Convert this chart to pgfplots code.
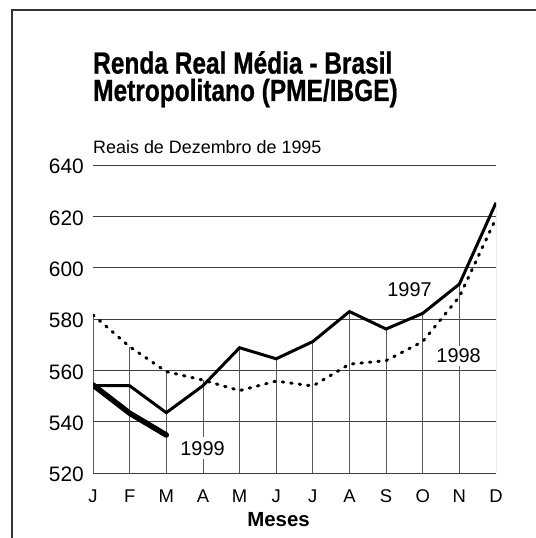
\documentclass[border=0pt]{standalone}
\usepackage{pgfplots}
\pgfplotsset{compat=1.18}
\usepackage{graphicx}
\usepackage{fontspec}
\setmainfont{Liberation Sans}
\newfontfamily\titlefont[FakeBold=0.8]{Liberation Sans Bold}
\begin{document}
\begin{tikzpicture}
\begin{axis}[
  at={(93bp,65bp)}, anchor=south west,
  scale only axis, width=403bp, height=308bp,
  xmin=0, xmax=11, ymin=520, ymax=640,
  xtick={0,...,11}, xticklabels={J,F,M,A,M,J,J,A,S,O,N,D},
  ytick={520,540,...,640},
  axis line style={draw=none},
  major tick length=0pt,
  ymajorgrids, grid style={black!75, line width=0.9bp},
  /pgf/number format/assume math mode=true,
  yticklabel style={font=\fontsize{21}{21}\selectfont, anchor=base east, inner sep=0pt, xshift=-9bp, yshift=-8.7bp},
  xticklabel style={font=\fontsize{18.5}{18.5}\selectfont, anchor=base, inner sep=0pt, yshift=-30bp},
]
% drop lines
\addplot[ycomb, draw=black!65, line width=0.8bp, mark=none] coordinates {
(0,581.6)(1,569.2)(2,559.5)(3,556.2)(4,568.8)(5,564.5)(6,571.2)(7,582.9)(8,576.1)(9,582.2)(10,593.6)(11,625.3)};
% 1998
\addplot[black, line width=3bp, line cap=round, dash pattern=on 1.5bp off 7bp, mark=none] coordinates {
(0,581.6)(1,569.2)(2,559.5)(3,556.2)(4,552.1)(5,555.8)(6,553.9)(7,562.4)(8,563.8)(9,571.2)(10,588.7)(11,619.2)};
% 1997
\addplot[black, line width=3bp, line join=miter, mark=none] coordinates {
(0,554)(1,554)(2,543.5)(3,554)(4,568.8)(5,564.5)(6,571.2)(7,582.9)(8,576.1)(9,582.2)(10,593.6)(11,625.3)};
% 1999
\addplot[black, line width=5.5bp, line cap=round, mark=none] coordinates {
(0,554.3)(1,543.3)(2,534.8)};
\node[font=\fontsize{20}{20}\selectfont, inner sep=1bp] at (axis cs:8.64,591.5) {1997};
\node[font=\fontsize{20}{20}\selectfont, fill=white, inner sep=3bp] at (axis cs:9.98,565.6) {1998};
\node[font=\fontsize{20}{20}\selectfont, fill=white, inner sep=4bp] at (axis cs:2.99,529.6) {1999};
\end{axis}
\node[anchor=base west, inner sep=0, align=left, font=\fontsize{30.7}{27.5}\selectfont\titlefont] at (93bp,437bp) {\scalebox{0.80}[1]{Renda Real Média - Brasil}\\\scalebox{0.80}[1]{Metropolitano (PME/IBGE)}};
\node[anchor=base west, inner sep=0, font=\fontsize{18}{18}\selectfont] at (93bp,384bp) {Reais de Dezembro de 1995};
\node[anchor=base, inner sep=0, font=\fontsize{20.5}{20.5}\selectfont\bfseries] at (278.5bp,11.3bp) {Meses};
\draw[line width=2.5bp, black!80] (12bp,-2bp) -- (12bp,528bp) -- (540bp,528bp);
\pgfresetboundingbox
\useasboundingbox (0,0) rectangle (536bp,538bp);
\end{tikzpicture}
\end{document}
